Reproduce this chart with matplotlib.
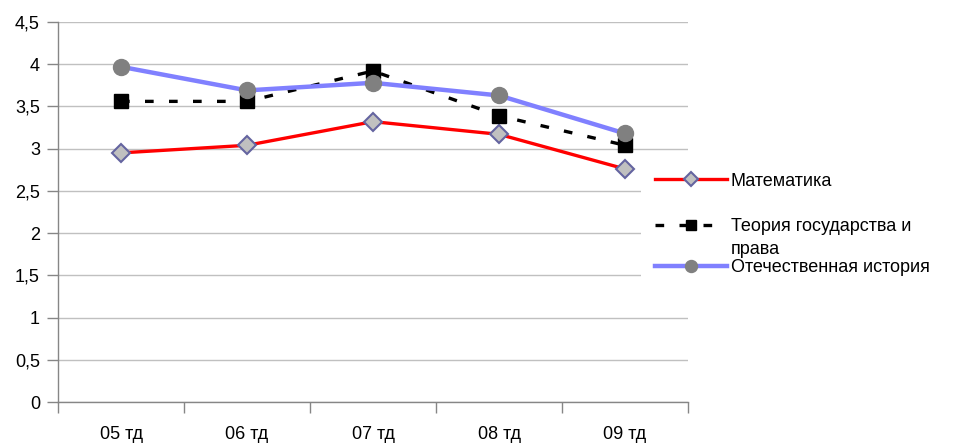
import matplotlib.pyplot as plt
from matplotlib.legend_handler import HandlerLine2D

# данные
groups = ["05 тд", "06 тд", "07 тд", "08 тд", "09 тд"]
math_vals = [2.95, 3.04, 3.32, 3.17, 2.76]
theory_vals = [3.56, 3.56, 3.92, 3.39, 3.04]
history_vals = [3.97, 3.69, 3.78, 3.63, 3.18]
y_ticks = [0, 0.5, 1, 1.5, 2, 2.5, 3, 3.5, 4, 4.5]

FS = 13

plt.rcParams["font.family"] = ["Liberation Sans", "DejaVu Sans"]


class FirstLineHandler(HandlerLine2D):
    # ставит значок легенды напротив первой строки подписи
    def __init__(self, shift, **kw):
        super().__init__(**kw)
        self.shift = shift

    def create_artists(self, legend, orig_handle, xdescent, ydescent,
                       width, height, fontsize, trans):
        return super().create_artists(legend, orig_handle, xdescent,
                                      ydescent - 2 * self.shift, width, height,
                                      fontsize, trans)


fig = plt.figure(figsize=(9.72, 4.44), dpi=100)
ax = fig.add_axes([58 / 972, 42 / 444, (688 - 58) / 972, 380 / 444])

x = range(len(groups))

l_math, = ax.plot(x, math_vals, color="#ff0000", lw=2.4, marker="D", ms=9,
                  mfc="#c0c0c0", mec="#6464a0", mew=1.5, label="Математика", zorder=3)
l_theory, = ax.plot(x, theory_vals, color="black", lw=2.4, ls=(0, (2.6, 4.6)), marker="s",
                    ms=10, mfc="black", mec="black",
                    label="Теория государства и\nправа", zorder=4)
l_hist, = ax.plot(x, history_vals, color="#8080ff", lw=3.2, marker="o", ms=11.5,
                  mfc="#808080", mec="#808080", label="Отечественная история", zorder=5)

ax.set_xlim(-0.5, 4.5)
ax.set_ylim(0, 4.5)

ax.set_yticks(y_ticks)
ax.set_yticklabels([f"{v:g}".replace(".", ",") for v in y_ticks])
ax.set_xticks(list(x))
ax.set_xticklabels(groups)
ax.set_xticks([i - 0.5 for i in range(len(groups) + 1)], minor=True)

ax.tick_params(axis="x", which="major", length=0, pad=17, labelsize=FS)
ax.tick_params(axis="x", which="minor", length=8, color="#868686", width=1)
ax.tick_params(axis="y", length=8, color="#868686", width=1, pad=5, labelsize=FS)

ax.grid(axis="y", color="#c0c0c0", lw=1)
ax.set_axisbelow(True)

for s in ["top", "right"]:
    ax.spines[s].set_visible(False)
for s in ["left", "bottom"]:
    ax.spines[s].set_color("#868686")
    ax.spines[s].set_linewidth(1)

leg_kw = dict(loc="center left", bbox_transform=fig.transFigure, frameon=True,
              facecolor="white", edgecolor="none", framealpha=1, fancybox=False,
              fontsize=FS, handlelength=4.0, handletextpad=0.22, numpoints=1,
              markerscale=0.75, borderpad=0.75, borderaxespad=0)

leg1 = ax.legend(handles=[l_math], bbox_to_anchor=(641 / 972, 1 - 181 / 444), **leg_kw)
ax.add_artist(leg1)

leg2 = ax.legend(handles=[l_theory, l_hist], bbox_to_anchor=(641 / 972, 1 - 247 / 444),
                 labelspacing=0.05,
                 handler_map={l_theory: FirstLineHandler(shift=9.75)}, **leg_kw)
for t in leg2.get_texts():
    t.set_linespacing(1.5)

fig.savefig("out.png", dpi=100, facecolor="white")
